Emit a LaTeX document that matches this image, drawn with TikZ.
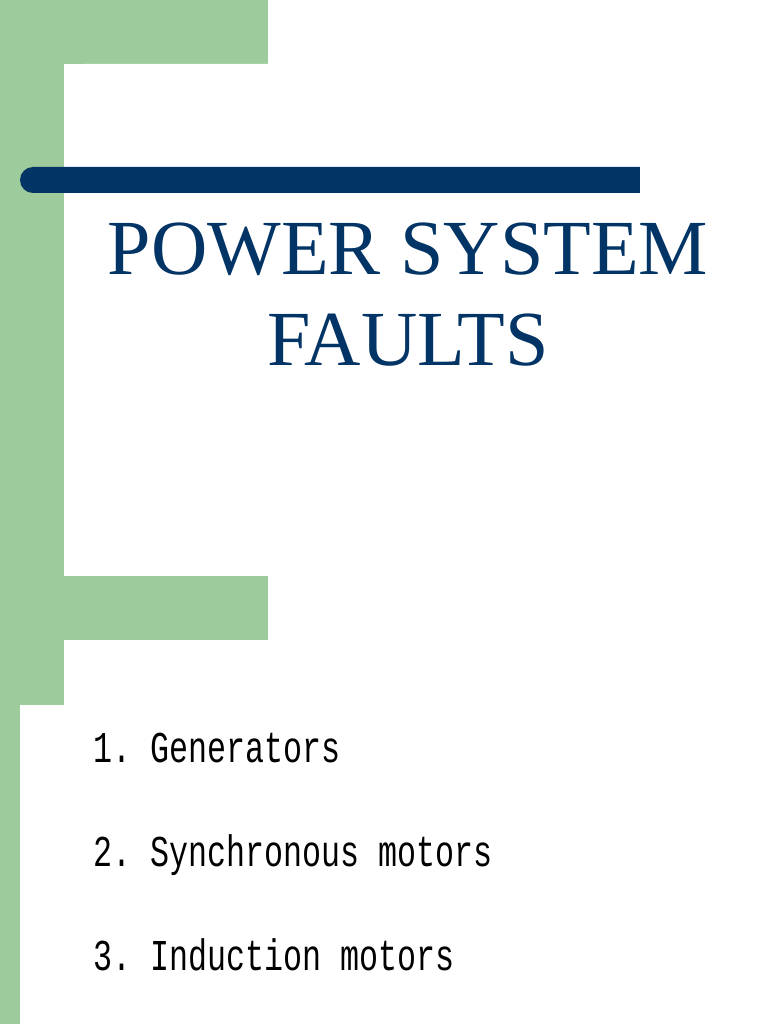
\documentclass[tikz,border=0pt]{standalone}
\usepackage{fontspec}
\setmainfont{Liberation Serif}
\setmonofont{Liberation Mono}
\definecolor{grn}{HTML}{9DCB9B}
\definecolor{navy}{HTML}{023466}
\begin{document}
\begin{tikzpicture}[x=1pt,y=-1pt,
  item/.style={anchor=base west,font=\ttfamily\fontsize{44}{44}\selectfont,xscale=0.72,inner sep=0}]
\useasboundingbox (0,0) rectangle (768,1024);
\fill[white] (0,0) rectangle (768,1024);
% slide 1
\fill[grn] (0,0) rectangle (268,64);
\fill[grn] (0,0) rectangle (64,576);
\fill[white,rounded corners=20] (64,64) rectangle (800,600);
\fill[white] (64,300) rectangle (768,576);
% slide 2
\fill[grn] (0,576) rectangle (268,640);
\fill[grn] (0,576) rectangle (64,705);
\fill[grn] (0,705) rectangle (20,1024);
\fill[white,rounded corners=20] (64,640) rectangle (800,720);
\fill[white] (20,705) rectangle (768,1024);
% bar
\fill[navy,rounded corners=13] (20,167) rectangle (660,193);
\fill[navy] (600,167) rectangle (640,193);
\fill[white] (640,160) rectangle (670,200);
\node[anchor=base,text=navy,font=\fontsize{78}{91}\selectfont] (t1) at (408,274) {POWER SYSTEM};
\node[anchor=base,text=navy,font=\fontsize{78}{91}\selectfont] (t2) at (408,365) {FAULTS};
\node[item] (i1) at (93,762) {1. Generators};
\node[item] (i2) at (93,866) {2. Synchronous motors};
\node[item] (i3) at (93,970) {3. Induction motors};
\end{tikzpicture}
\end{document}
